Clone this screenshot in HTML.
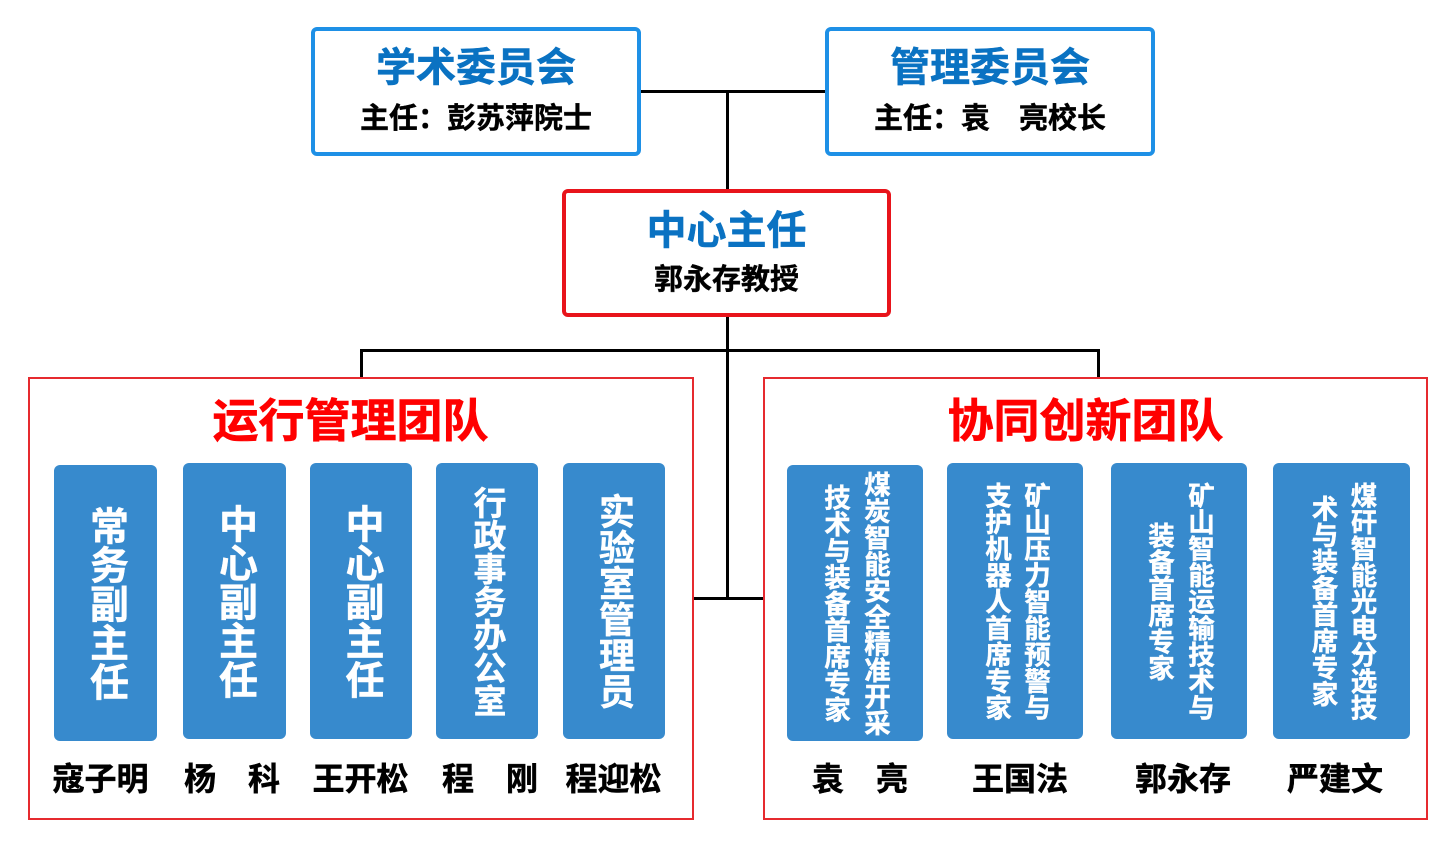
<!DOCTYPE html>
<html>
<head>
<meta charset="utf-8">
<style>
  html, body { margin:0; padding:0; background:#fff; }
  body { width:1442px; height:846px; position:relative; overflow:hidden;
         font-family:"Liberation Sans","Noto Sans CJK SC",sans-serif; font-weight:700; }
  .box { position:absolute; box-sizing:border-box; border-radius:6px; background:#fff; }
  .bluebox { border:4px solid #1E90E6; }
  .redbox { border:4px solid #E8141B; }
  .team { position:absolute; box-sizing:border-box; border:2px solid #E62A2F; background:#fff; }
  .line { position:absolute; background:#000; }
  .t { position:absolute; text-align:center; white-space:nowrap; }
  .h1 { font-size:40px; line-height:50px; height:50px; color:#0A72C2; -webkit-text-stroke:0.5px #0A72C2; }
  .h2 { font-size:29px; line-height:36px; height:36px; color:#000; -webkit-text-stroke:0.4px #000; }
  .title { font-size:46px; line-height:56px; height:56px; color:#FF0000; -webkit-text-stroke:0.6px #FF0000; }
  .name { font-size:32px; line-height:40px; height:40px; color:#000; -webkit-text-stroke:0.5px #000; }
  .col { position:absolute; box-sizing:border-box; background:#378ACD; border-radius:6px;
         display:flex; align-items:center; justify-content:center; }
  .vt { writing-mode:vertical-rl; text-orientation:upright; color:#fff; text-align:center; white-space:nowrap; -webkit-text-stroke:0.4px #fff; }
</style>
</head>
<body>

<!-- connector lines -->
<div class="line" style="left:641px; top:90px; width:184px; height:3px;"></div>
<div class="line" style="left:726px; top:90px; width:3px; height:100px;"></div>
<div class="line" style="left:726px; top:316px; width:3px; height:284px;"></div>
<div class="line" style="left:360px; top:349px; width:740px; height:3px;"></div>
<div class="line" style="left:360px; top:349px; width:3px; height:29px;"></div>
<div class="line" style="left:1097px; top:349px; width:3px; height:29px;"></div>
<div class="line" style="left:693px; top:597px; width:71px; height:3px;"></div>

<!-- top boxes -->
<div class="box bluebox" style="left:311px; top:27px; width:330px; height:129px;"></div>
<div class="t h1" style="left:311px; top:43px; width:330px;">学术委员会</div>
<div class="t h2" style="left:311px; top:101px; width:330px;">主任：彭苏萍院士</div>

<div class="box bluebox" style="left:825px; top:27px; width:330px; height:129px;"></div>
<div class="t h1" style="left:825px; top:43px; width:330px;">管理委员会</div>
<div class="t h2" style="left:825px; top:101px; width:330px;">主任：袁　亮校长</div>

<!-- center box -->
<div class="box redbox" style="left:562px; top:189px; width:329px; height:128px;"></div>
<div class="t h1" style="left:562px; top:206px; width:329px;">中心主任</div>
<div class="t h2" style="left:562px; top:262px; width:329px;">郭永存教授</div>

<!-- team boxes -->
<div class="team" style="left:28px; top:377px; width:666px; height:443px;"></div>
<div class="team" style="left:763px; top:377px; width:665px; height:443px;"></div>

<div class="t title" style="left:150px; top:393px; width:401px;">运行管理团队</div>
<div class="t title" style="left:885px; top:393px; width:401px;">协同创新团队</div>

<!-- left columns -->
<div class="col" style="left:54px; top:465px; width:103px; height:276px;">
  <div class="vt" style="font-size:39px; line-height:44px;">常务副主任</div>
</div>
<div class="col" style="left:183px; top:463px; width:103px; height:276px;">
  <div class="vt" style="font-size:39px; line-height:44px;">中心副主任</div>
</div>
<div class="col" style="left:310px; top:463px; width:102px; height:276px;">
  <div class="vt" style="font-size:39px; line-height:44px;">中心副主任</div>
</div>
<div class="col" style="left:436px; top:463px; width:102px; height:276px;">
  <div class="vt" style="font-size:33px; line-height:40px;">行政事务办公室</div>
</div>
<div class="col" style="left:563px; top:463px; width:102px; height:276px;">
  <div class="vt" style="font-size:36px; line-height:42px;">实验室管理员</div>
</div>

<!-- right columns -->
<div class="col" style="left:787px; top:465px; width:136px; height:276px;">
  <div class="vt" style="font-size:26.5px; line-height:40px;">煤炭智能安全精准开采<br>技术与装备首席专家</div>
</div>
<div class="col" style="left:947px; top:463px; width:136px; height:276px;">
  <div class="vt" style="font-size:26.5px; line-height:39px;">矿山压力智能预警与<br>支护机器人首席专家</div>
</div>
<div class="col" style="left:1111px; top:463px; width:136px; height:276px;">
  <div class="vt" style="font-size:26.5px; line-height:40px;">矿山智能运输技术与<br>装备首席专家</div>
</div>
<div class="col" style="left:1273px; top:463px; width:137px; height:276px;">
  <div class="vt" style="font-size:26.5px; line-height:39px;">煤矸智能光电分选技<br>术与装备首席专家</div>
</div>

<!-- names -->
<div class="t name" style="left:40px; top:759px; width:121px;">寇子明</div>
<div class="t name" style="left:172px; top:759px; width:120px;">杨　科</div>
<div class="t name" style="left:300px; top:759px; width:121px;">王开松</div>
<div class="t name" style="left:430px; top:759px; width:120px;">程　刚</div>
<div class="t name" style="left:553px; top:759px; width:121px;">程迎松</div>

<div class="t name" style="left:800px; top:759px; width:120px;">袁　亮</div>
<div class="t name" style="left:960px; top:759px; width:120px;">王国法</div>
<div class="t name" style="left:1123px; top:759px; width:120px;">郭永存</div>
<div class="t name" style="left:1275px; top:759px; width:120px;">严建文</div>

</body>
</html>
